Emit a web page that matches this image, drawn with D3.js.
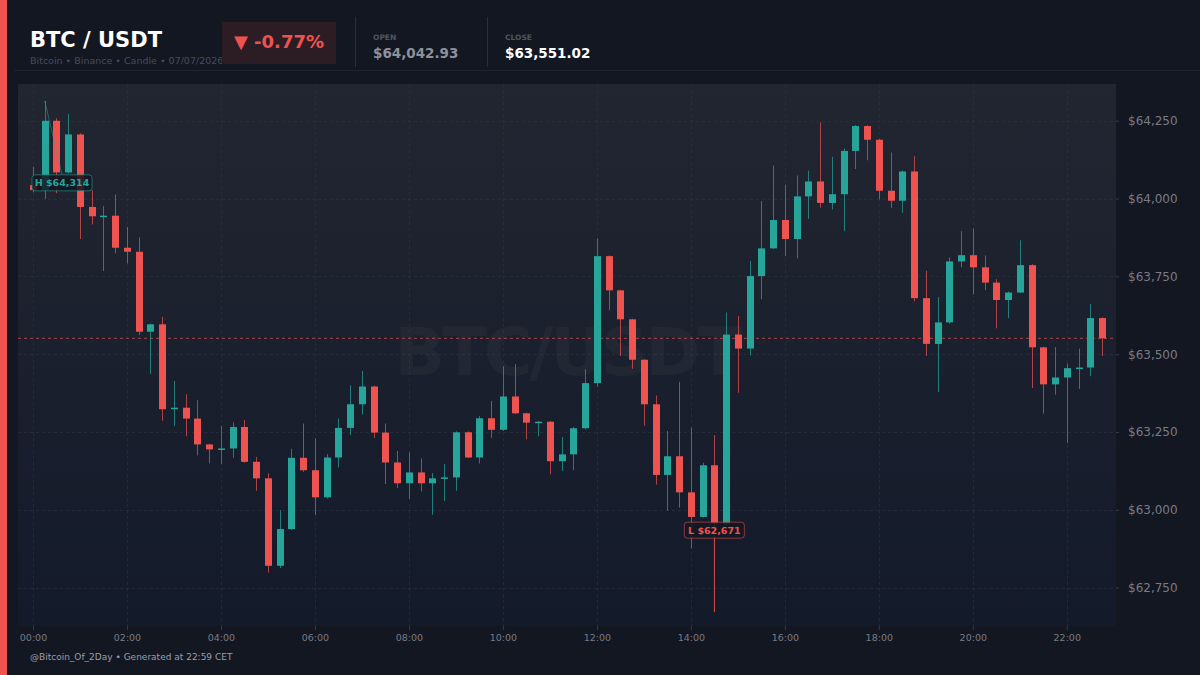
<!DOCTYPE html>
<html>
<head>
<meta charset="utf-8">
<script src="https://cdn.jsdelivr.net/npm/d3@7"></script>
<style>
  body { margin: 0; background: #131722; }
  svg { display: block; font-family: "DejaVu Sans", sans-serif; }
</style>
</head>
<body>
<div id="chart"></div>
<script>
var svgWidth = 1200;
var svgHeight = 675;

// plot box
var plot = { left: 18, right: 1116, top: 84, bottom: 626 };

var upColor = "#26a69a";
var downColor = "#ef5350";

// 15 minute candles, 00:00 -> 22:45
var opens = [64042.93, 64027, 64250, 64084, 64206, 63973, 63943, 63945, 63842, 63829,
  63572, 63596, 63323, 63328, 63293, 63210, 63194, 63197, 63266, 63154,
  63101, 62820, 62938, 63167, 63127, 63040, 63168, 63263, 63339, 63396,
  63248, 63152, 63085, 63120, 63085, 63101, 63104, 63249, 63168, 63294,
  63257, 63364, 63310, 63280, 63283, 63156, 63178, 63262, 63407, 63815,
  63705, 63612, 63482, 63339, 63112, 63172, 63056, 62977, 63143, 62955,
  63563, 63518, 63751, 63840, 63931, 63870, 64007, 64055, 63986, 64014,
  64153, 64233, 64189, 64025, 63993, 64087, 63680, 63533, 63602, 63798,
  63818, 63779, 63730, 63674, 63698, 63786, 63522, 63403, 63425, 63455,
  63457, 63616];
var highs = [64102, 64314, 64258, 64271, 64210, 64027, 63976, 64013, 63909, 63875,
  63598, 63620, 63414, 63371, 63352, 63212, 63270, 63281, 63288, 63170,
  63117, 62999, 63196, 63277, 63229, 63179, 63293, 63400, 63446, 63399,
  63277, 63189, 63184, 63165, 63118, 63147, 63252, 63252, 63301, 63350,
  63461, 63468, 63312, 63285, 63285, 63234, 63266, 63452, 63872, 63817,
  63707, 63614, 63484, 63367, 63253, 63411, 63264, 63151, 63240, 63634,
  63623, 63800, 63992, 64106, 64045, 64074, 64090, 64245, 64134, 64161,
  64236, 64236, 64192, 64148, 64090, 64136, 63768, 63684, 63811, 63895,
  63904, 63817, 63741, 63701, 63866, 63789, 63524, 63523, 63470, 63518,
  63661, 63618];
var lows = [64020, 63998, 64017, 64081, 63870, 63917, 63767, 63824, 63791, 63561,
  63436, 63286, 63269, 63236, 63175, 63149, 63147, 63167, 63151, 63061,
  62798, 62813, 62935, 63122, 62983, 63036, 63136, 63240, 63306, 63231,
  63083, 63070, 63035, 63059, 62984, 63028, 63061, 63166, 63149, 63231,
  63253, 63308, 63226, 63236, 63114, 63124, 63127, 63258, 63395, 63641,
  63494, 63453, 63270, 63081, 62996, 63007, 62876, 62975, 62671, 62950,
  63376, 63496, 63676, 63838, 63815, 63808, 63935, 63971, 63965, 63895,
  64095, 64123, 63997, 63970, 63954, 63670, 63494, 63378, 63598, 63779,
  63692, 63706, 63583, 63615, 63696, 63391, 63309, 63370, 63215, 63388,
  63429, 63494];
var closes = [64027, 64250, 64084, 64206, 63973, 63943, 63945, 63842, 63829, 63572,
  63596, 63323, 63328, 63293, 63210, 63194, 63197, 63266, 63154, 63101,
  62820, 62938, 63167, 63127, 63040, 63168, 63263, 63339, 63396, 63248,
  63152, 63085, 63120, 63085, 63101, 63104, 63249, 63168, 63294, 63257,
  63364, 63310, 63280, 63283, 63156, 63178, 63262, 63407, 63815, 63705,
  63612, 63482, 63339, 63112, 63172, 63056, 62977, 63143, 62955, 63563,
  63518, 63751, 63840, 63931, 63870, 64007, 64055, 63986, 64014, 64153,
  64233, 64189, 64025, 63993, 64087, 63680, 63533, 63602, 63798, 63818,
  63779, 63730, 63674, 63698, 63786, 63522, 63403, 63425, 63455, 63457,
  63616, 63551.02];

var yTicks = [62750, 63000, 63250, 63500, 63750, 64000, 64250];

var startTime = Date.UTC(2026, 6, 7, 0, 0);
var times = opens.map((d, i) => new Date(startTime + i * 15 * 60 * 1000));

var candles = times.map(function(t, i) {
  return { time: t, open: opens[i], high: highs[i], low: lows[i], close: closes[i] };
});

var svg = d3.select("#chart")
  .append("svg")
  .attr("width", svgWidth)
  .attr("height", svgHeight);

var defs = svg.append("defs");
var grad = defs.append("linearGradient")
  .attr("id", "plotBg")
  .attr("x1", 0).attr("y1", 0).attr("x2", 0).attr("y2", 1);
grad.append("stop").attr("offset", "0%").attr("stop-color", "#222631");
grad.append("stop").attr("offset", "100%").attr("stop-color", "#131a2a");

svg.append("rect")
  .attr("width", svgWidth).attr("height", svgHeight)
  .attr("fill", "#131722");

// left accent bar
svg.append("rect")
  .attr("x", 0).attr("y", 0).attr("width", 7).attr("height", svgHeight)
  .attr("fill", downColor);

// -----------------------------------------------------------------------------
// header

var first = candles[0];
var last = candles[candles.length - 1];
var change = (last.close - first.open) / first.open * 100;
var fmtPrice = d3.format(",.2f");

svg.append("text")
  .attr("x", 30).attr("y", 47)
  .attr("fill", "#ffffff")
  .attr("font-size", 21).attr("font-weight", "bold")
  .text("BTC / USDT");

svg.append("text")
  .attr("x", 30).attr("y", 64)
  .attr("fill", "#474c5a")
  .attr("font-size", 9.5)
  .text("Bitcoin \u2022 Binance \u2022 Candle \u2022 07/07/2026");

svg.append("rect")
  .attr("x", 222).attr("y", 22).attr("width", 114).attr("height", 42)
  .attr("fill", "#2c1d25");

// plain hyphen, not the unicode minus d3.format gives
svg.append("text")
  .attr("x", 279).attr("y", 48)
  .attr("text-anchor", "middle")
  .attr("fill", downColor)
  .attr("font-size", 18).attr("font-weight", "bold")
  .text((change < 0 ? "\u25BC -" : "\u25B2 +") + Math.abs(change).toFixed(2) + "%");

[355.5, 487.5].forEach(function(sx) {
  svg.append("line")
    .attr("x1", sx).attr("x2", sx).attr("y1", 17).attr("y2", 67)
    .attr("stroke", "#2a2e39");
});

var stats = [
  { x: 373, label: "OPEN", value: "$" + fmtPrice(first.open), color: "#8d919b" },
  { x: 505, label: "CLOSE", value: "$" + fmtPrice(last.close), color: "#ffffff" }
];
stats.forEach(function(s) {
  svg.append("text")
    .attr("x", s.x).attr("y", 40)
    .attr("fill", "#50555f")
    .attr("font-size", 7.5).attr("font-weight", "bold")
    .text(s.label);
  svg.append("text")
    .attr("x", s.x).attr("y", 58)
    .attr("fill", s.color)
    .attr("font-size", 13.5).attr("font-weight", "bold")
    .text(s.value);
});

svg.append("line")
  .attr("x1", 14).attr("x2", svgWidth).attr("y1", 70.5).attr("y2", 70.5)
  .attr("stroke", "#1e2230");

// -----------------------------------------------------------------------------
// scales

var x = d3.scaleUtc()
  .domain([times[0], times[times.length - 1]])
  .range([33, 1102]);

var minLow = d3.min(candles, d => d.low);
var maxHigh = d3.max(candles, d => d.high);
var pad = (maxHigh - minLow) * 0.03;
var y = d3.scaleLinear()
  .domain([minLow - pad, maxHigh + pad])
  .range([plot.bottom + 1.5, plot.top + 1.5]);

svg.append("rect")
  .attr("x", plot.left).attr("y", plot.top)
  .attr("width", plot.right - plot.left).attr("height", plot.bottom - plot.top)
  .attr("fill", "url(#plotBg)");

// grid
var xTickTimes = x.ticks(d3.utcHour.every(2));
var gridG = svg.append("g");
gridG.selectAll("line.vgrid")
  .data(xTickTimes)
  .enter()
  .append("line")
  .attr("x1", d => Math.round(x(d)) + 0.5)
  .attr("x2", d => Math.round(x(d)) + 0.5)
  .attr("y1", plot.top).attr("y2", plot.bottom)
  .attr("stroke", "#2f3441").attr("stroke-dasharray", "3,3")
  .attr("stroke-opacity", 0.55);
gridG.selectAll("line.hgrid")
  .data(yTicks)
  .enter()
  .append("line")
  .attr("x1", plot.left).attr("x2", plot.right)
  .attr("y1", d => Math.round(y(d)) + 0.5)
  .attr("y2", d => Math.round(y(d)) + 0.5)
  .attr("stroke", "#2f3441").attr("stroke-dasharray", "3,3")
  .attr("stroke-opacity", 0.55);

// watermark
svg.append("text")
  .attr("x", (plot.left + plot.right) / 2)
  .attr("y", 375)
  .attr("text-anchor", "middle")
  .attr("fill", "#ffffff").attr("fill-opacity", 0.03)
  .attr("font-size", 66).attr("font-weight", "bold")
  .attr("letter-spacing", -3)
  .text("BTC/USDT");

// last close line
svg.append("line")
  .attr("x1", plot.left).attr("x2", plot.right)
  .attr("y1", y(last.close)).attr("y2", y(last.close))
  .attr("stroke", downColor).attr("stroke-opacity", 0.7)
  .attr("stroke-dasharray", "3,3");

// -----------------------------------------------------------------------------
// candles

var candleG = svg.append("g");

candleG.selectAll("line.wick")
  .data(candles)
  .enter()
  .append("line")
  .attr("x1", d => Math.round(x(d.time)) + 0.5)
  .attr("x2", d => Math.round(x(d.time)) + 0.5)
  .attr("y1", d => y(d.high))
  .attr("y2", d => y(d.low))
  .attr("stroke", d => d.close >= d.open ? upColor : downColor)
  .attr("stroke-opacity", 0.7);

candleG.selectAll("rect.body")
  .data(candles)
  .enter()
  .append("rect")
  .attr("x", d => Math.round(x(d.time)) - 3)
  .attr("width", 7)
  .attr("y", d => y(Math.max(d.open, d.close)))
  .attr("height", d => Math.max(1.5, Math.abs(y(d.open) - y(d.close))))
  .attr("fill", d => d.close >= d.open ? upColor : downColor);

// high / low markers
var hiC = candles[d3.maxIndex(candles, d => d.high)];
var loC = candles[d3.minIndex(candles, d => d.low)];
var marks = [
  { c: hiC, v: hiC.high, text: "H $" + d3.format(",")(Math.round(hiC.high)), dy: 82, color: upColor },
  { c: loC, v: loC.low, text: "L $" + d3.format(",")(Math.round(loC.low)), dy: -82, color: downColor }
];
marks.forEach(function(m) {
  var px = x(m.c.time);
  var py = y(m.v);
  var w = 60, h = 16;
  var bx = Math.max(px - w / 2, 32);
  var cy = py + m.dy;
  svg.append("line")
    .attr("x1", px).attr("y1", py)
    .attr("x2", bx + w / 2).attr("y2", m.dy > 0 ? cy - h / 2 : cy + h / 2)
    .attr("stroke", m.color).attr("stroke-opacity", 0.5);
  svg.append("rect")
    .attr("x", bx).attr("y", cy - h / 2)
    .attr("width", w).attr("height", h)
    .attr("rx", 3)
    .attr("fill", "#141822").attr("fill-opacity", 0.85)
    .attr("stroke", m.color).attr("stroke-opacity", 0.55);
  svg.append("text")
    .attr("x", bx + w / 2).attr("y", cy + 3.5)
    .attr("text-anchor", "middle")
    .attr("fill", m.color)
    .attr("font-size", 9.5).attr("font-weight", "bold")
    .text(m.text);
});

// -----------------------------------------------------------------------------
// axes

var rightAxis = d3.axisRight(y)
  .tickValues(yTicks)
  .tickSize(3)
  .tickPadding(9)
  .tickFormat(d => "$" + d3.format(",")(d));

var yAxis = svg.append("g")
  .attr("transform", `translate(${plot.right}, 0)`)
  .call(rightAxis);

var bottomAxis = d3.axisBottom(x)
  .ticks(d3.utcHour.every(2))
  .tickSize(4)
  .tickPadding(4)
  .tickFormat(d3.utcFormat("%H:%M"));

var xAxis = svg.append("g")
  .attr("transform", `translate(0, ${plot.bottom})`)
  .call(bottomAxis);

[xAxis, yAxis].forEach(function(ax) {
  ax.select(".domain").remove();
  ax.selectAll("line").attr("stroke", "#363a45");
  ax.selectAll("text").attr("fill", "#787b86").attr("font-family", "DejaVu Sans");
});
yAxis.selectAll("text").attr("font-size", 12);
xAxis.selectAll("text").attr("font-size", 9.5);

// footer
svg.append("text")
  .attr("x", 30).attr("y", 660)
  .attr("fill", "#9a9ea8")
  .attr("font-size", 9)
  .text("@Bitcoin_Of_2Day \u2022 Generated at 22:59 CET");
</script>
</body>
</html>
